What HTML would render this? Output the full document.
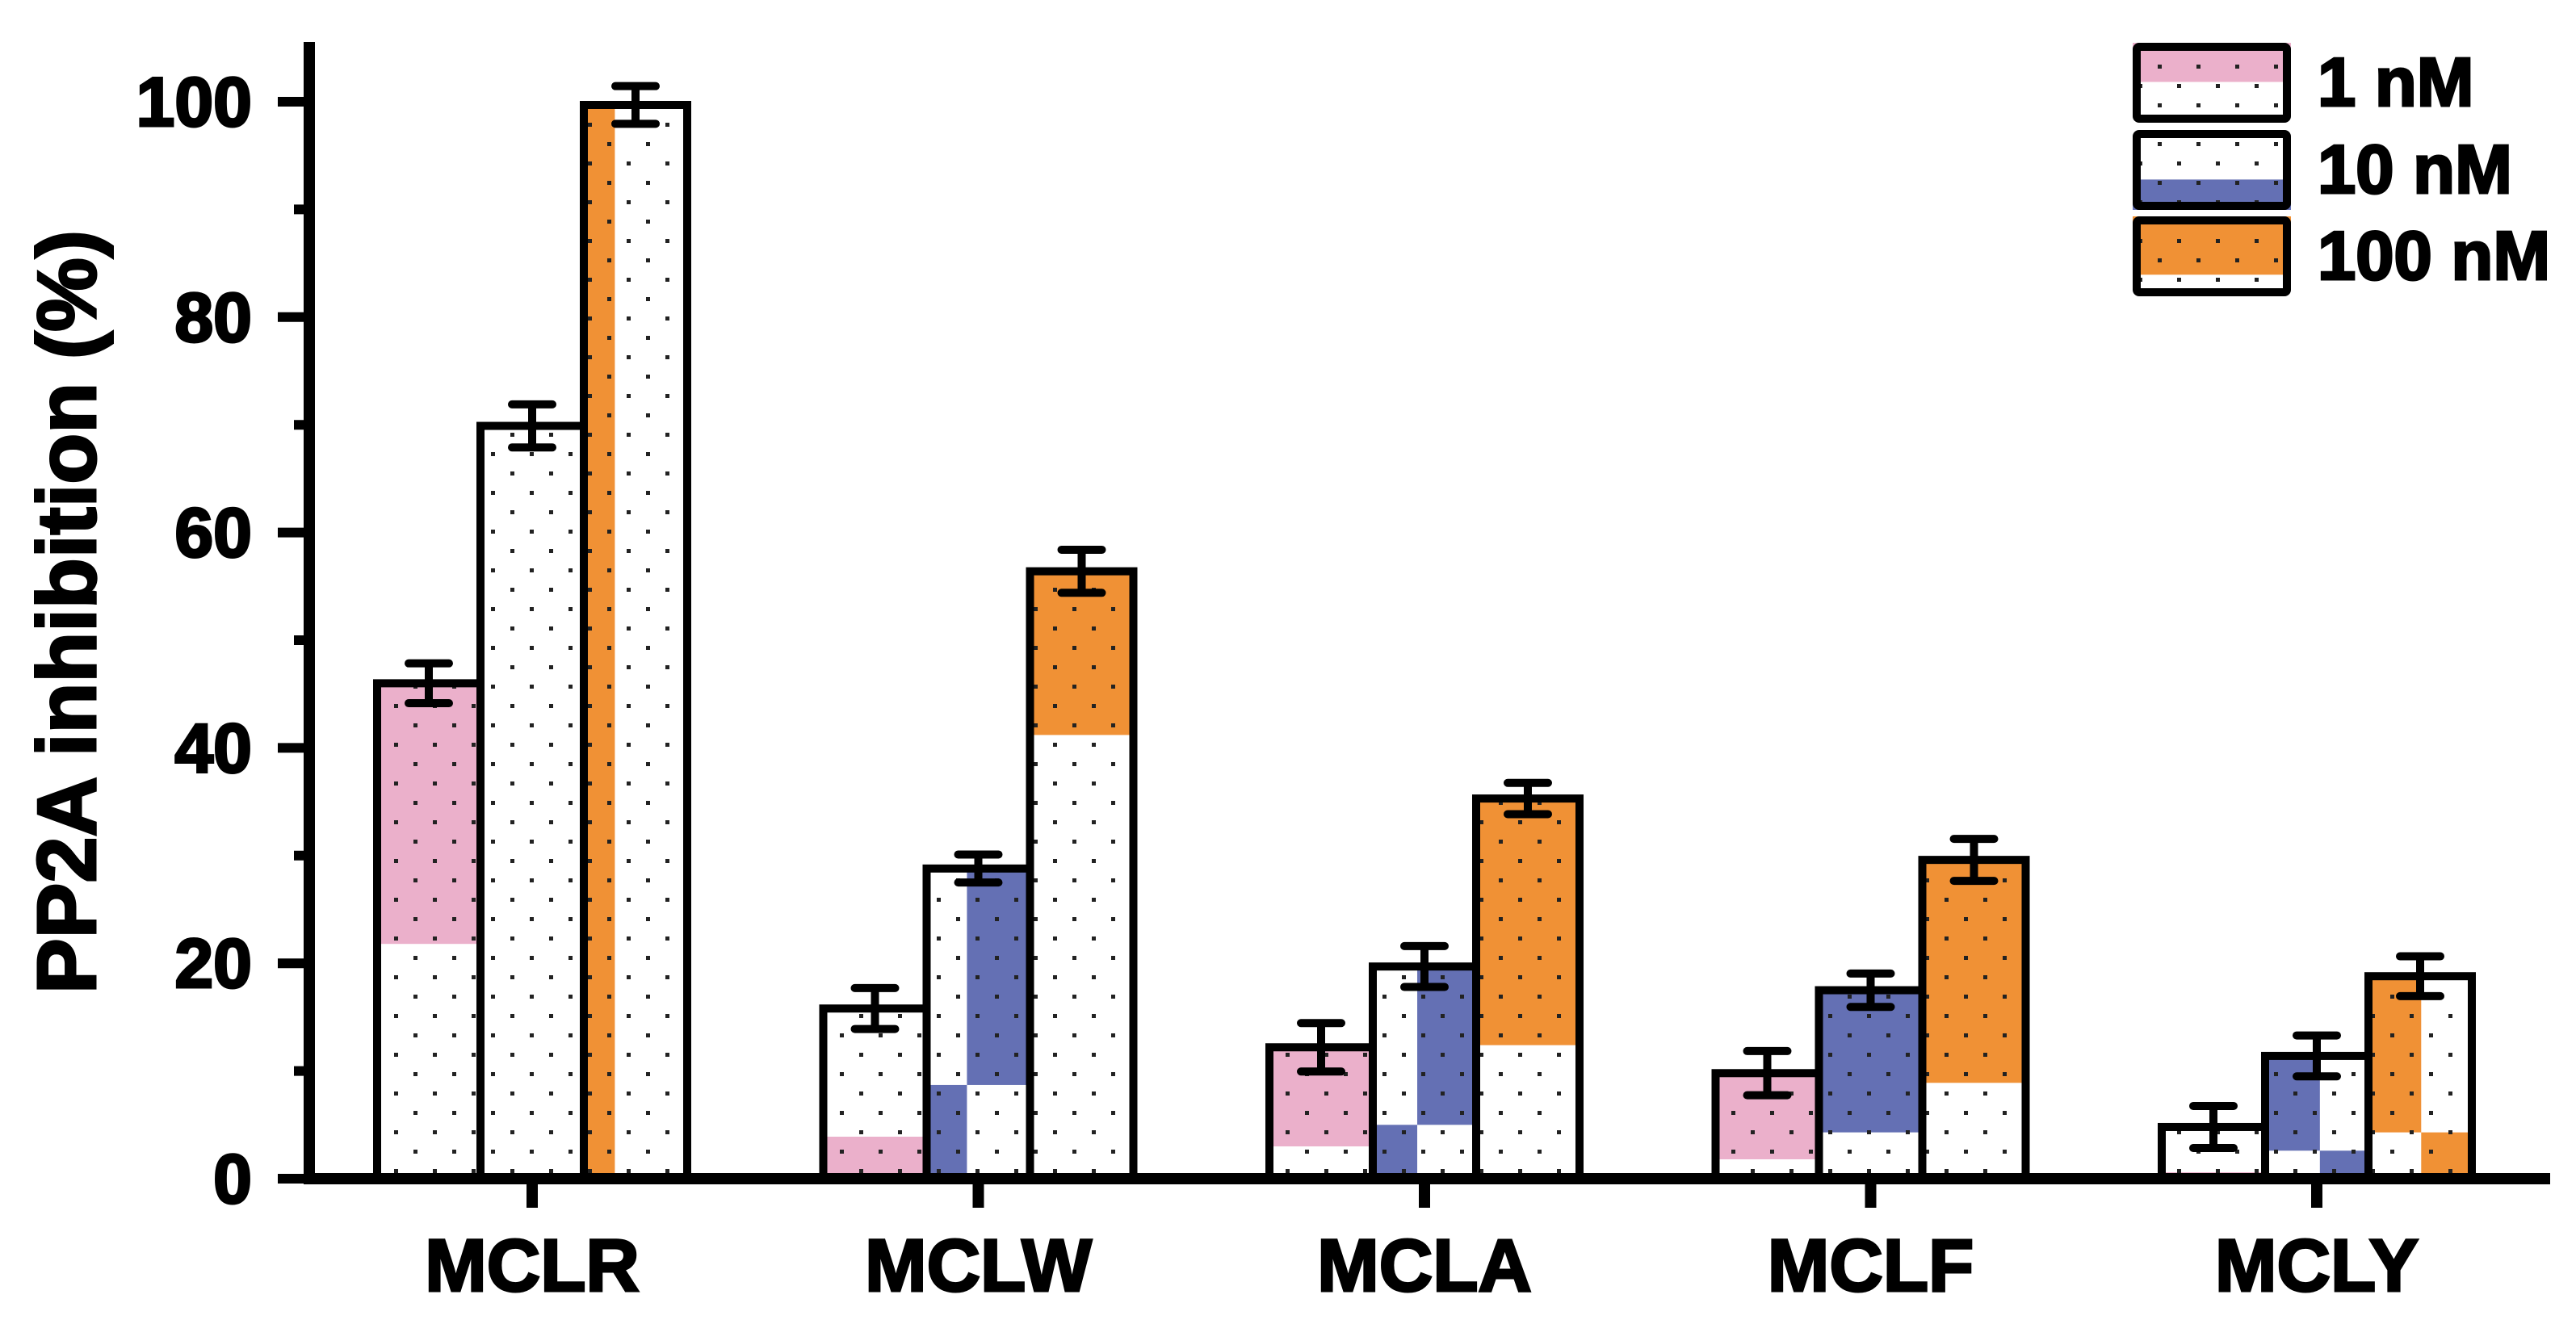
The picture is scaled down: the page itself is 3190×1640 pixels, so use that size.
<!DOCTYPE html>
<html><head><meta charset="utf-8"><style>
html,body{margin:0;padding:0;background:#fff;}
svg{display:block;font-family:"Liberation Sans",Arial,sans-serif;font-weight:bold;}
svg text{stroke:#000;stroke-width:3;paint-order:stroke;}
</style></head><body>
<svg id="chart" width="3190" height="1640" viewBox="0 0 3190 1640" xmlns="http://www.w3.org/2000/svg">
<defs>
<pattern id="dots" patternUnits="userSpaceOnUse" width="48" height="48" x="0" y="0">
<rect x="8" y="8" width="5" height="5" fill="#222"/>
<rect x="32" y="32" width="5" height="5" fill="#222"/>
</pattern>
</defs>
<g id="plot"></g>
</svg>
<script>
const categories = ["MCLR","MCLW","MCLA","MCLF","MCLY"];
const series = ["1 nM","10 nM","100 nM"];
const values1 = [46.0, 15.8, 12.2, 9.8, 4.8];
const values10 = [69.9, 28.8, 19.7, 17.5, 11.4];
const values100 = [99.7, 56.4, 35.3, 29.6, 18.8];
const err1 = [1.85, 1.9, 2.25, 2.05, 1.95];
const err10 = [2.0, 1.3, 1.9, 1.55, 1.9];
const err100 = [1.75, 2.0, 1.45, 1.95, 1.85];
const yTicks = [0, 20, 40, 60, 80, 100];
const yMinorTicks = [10, 30, 50, 70, 90];
// coloured segments: [category index, series index, value low, value high, width fraction from, width fraction to]
const segments = [
 [0,0,21.8,46.0,0,1],[0,2,0,99.7,0,0.3],
 [1,0,0,3.9,0,1],[1,1,0,8.7,0,0.39],[1,1,8.7,28.8,0.39,1],[1,2,41.2,56.4,0,1],
 [2,0,3.0,12.2,0,1],[2,1,0,5.0,0,0.43],[2,1,5.0,19.7,0.43,1],[2,2,12.4,35.3,0,1],
 [3,0,1.8,9.8,0,1],[3,1,4.3,17.5,0,1],[3,2,8.9,29.6,0,1],
 [4,0,0,0.6,0,1],[4,1,2.6,11.4,0,0.53],[4,1,0,2.6,0.53,1],[4,2,4.3,18.8,0,0.51],[4,2,0,4.3,0.51,1]
];
const colors = ["#ebb0cb","#6470b4","#f09135"];

const NS="http://www.w3.org/2000/svg";
const g=document.getElementById('plot');
const y0=1460, yTop=126;
function yScale(v){return y0-(v/100)*(y0-yTop);}
const groupStart=659, groupStep=552.5, barW=128;
function xCenter(ci,si){return groupStart+ci*groupStep+(si-1)*barW;}
function mk(tag,attrs){const e=document.createElementNS(NS,tag);for(const k in attrs)e.setAttribute(k,attrs[k]);g.appendChild(e);return e;}
const vals=[values1,values10,values100], errs=[err1,err10,err100];

for(let ci=0;ci<categories.length;ci++){
 for(let si=0;si<3;si++){
  const cx=xCenter(ci,si), x=cx-barW/2, v=vals[si][ci];
  const bg=mk('rect',{x:x,y:yScale(v),width:barW,height:y0-yScale(v),fill:'#fff'});
  
  
  segments.filter(s=>s[0]===ci&&s[1]===si).forEach((s,k)=>{
   const r=mk('rect',{x:x+s[4]*barW,y:yScale(s[3]),width:(s[5]-s[4])*barW,height:yScale(s[2])-yScale(s[3]),fill:colors[si]});
   
   
  });
  const d=mk('rect',{x:x,y:yScale(v),width:barW,height:y0-yScale(v),fill:'url(#dots)'});
  
  
  const o=mk('rect',{x:x,y:yScale(v),width:barW,height:y0-yScale(v),fill:'none',stroke:'#000','stroke-width':10});
  
  
 }
}
for(let ci=0;ci<categories.length;ci++){
 for(let si=0;si<3;si++){
  const cx=xCenter(ci,si), v=vals[si][ci], e=errs[si][ci];
  const hi=yScale(v+e), lo=yScale(v-e);
  const l=mk('path',{d:`M${cx} ${hi}V${lo}M${cx-25} ${hi}H${cx+25}M${cx-25} ${lo}H${cx+25}`,stroke:'#000','stroke-width':10,'stroke-linecap':'round',fill:'none'});
  
  
 }
}
const ya=mk('line',{x1:383,y1:52,x2:383,y2:y0+7,stroke:'#000','stroke-width':14});


const xa=mk('line',{x1:376,y1:y0,x2:3158,y2:y0,stroke:'#000','stroke-width':14});


yTicks.forEach(t=>{
 const l=mk('line',{x1:344,x2:383,y1:yScale(t),y2:yScale(t),stroke:'#000','stroke-width':12});
 
 
 const tx=mk('text',{x:312,y:yScale(t)+30,'text-anchor':'end','font-size':86});
 tx.textContent=t;
 
 
});
yMinorTicks.forEach(t=>{
 const l=mk('line',{x1:364,x2:383,y1:yScale(t),y2:yScale(t),stroke:'#000','stroke-width':12});
 
 
});
categories.forEach((c,ci)=>{
 const cx=xCenter(ci,1);
 const l=mk('line',{x1:cx,x2:cx,y1:y0,y2:y0+36,stroke:'#000','stroke-width':14});
 
 
 const tx=mk('text',{x:cx,y:1599,'text-anchor':'middle','font-size':92});
 tx.textContent=c;
 
 
});
const yt=mk('text',{x:0,y:0,'text-anchor':'middle','font-size':103,transform:'translate(118,758) rotate(-90)'});
yt.textContent='PP2A inhibition (%)';



const legTops=[53,161,268];
const legSplits=[[0,0.49],[0.62,1],[0,0.73]];
series.forEach((s,si)=>{
 const x=2641,w=196,y=legTops[si],h=99;
 const bg=mk('rect',{x:x,y:y,width:w,height:h,fill:'#fff'});
 
 
 const c=mk('rect',{x:x,y:y+legSplits[si][0]*h,width:w,height:(legSplits[si][1]-legSplits[si][0])*h,fill:colors[si]});
 
 
 const d=mk('rect',{x:x,y:y,width:w,height:h,fill:'url(#dots)'});
 
 
 const o=mk('rect',{x:x+5,y:y+5,width:w-10,height:h-10,fill:'none',stroke:'#000','stroke-width':10,rx:3});
 
 
 const t=mk('text',{x:2870,y:y+78,'font-size':85});
 t.textContent=s;
 
 
});
</script>
</body></html>
